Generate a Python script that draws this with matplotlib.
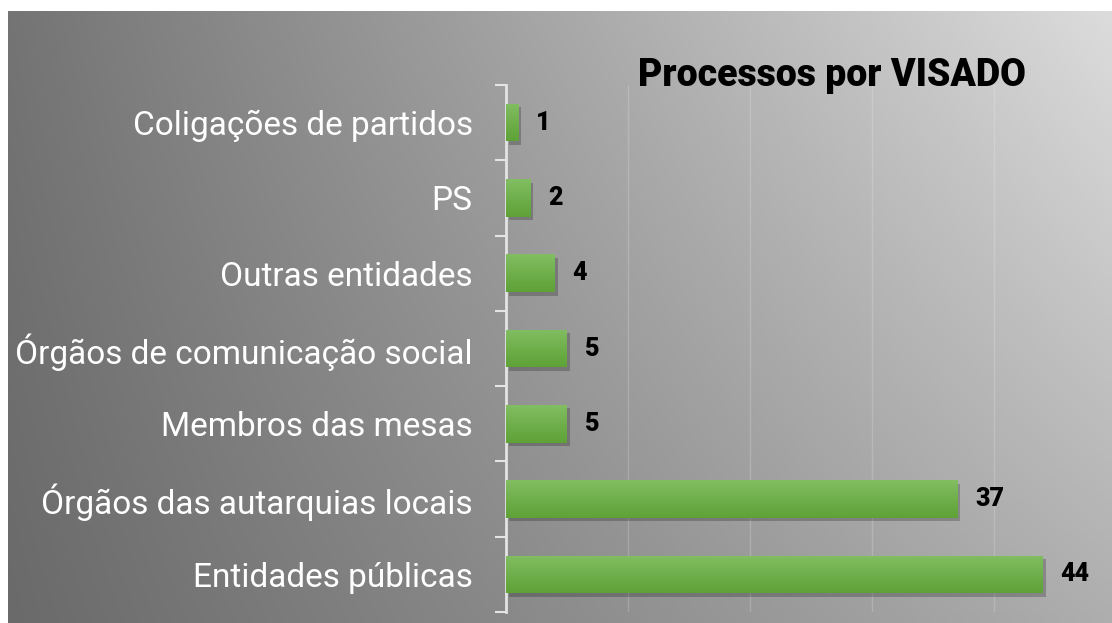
import numpy as np
import matplotlib
matplotlib.use("Agg")
import matplotlib.pyplot as plt
from matplotlib import patheffects as pe

categories = ["Coligações de partidos", "PS", "Outras entidades",
              "Órgãos de comunicação social", "Membros das mesas",
              "Órgãos das autarquias locais", "Entidades públicas"]
values = [1, 2, 4, 5, 5, 37, 44]
title = "Processos por VISADO"

W, H = 1112, 623
fig = plt.figure(figsize=(W / 100, H / 100), dpi=100)
fig.patch.set_facecolor("white")

# background gradient panel
bg = fig.add_axes([8 / W, 0, 1 - 8 / W, (H - 11) / H])
bg.set_axis_off()
nx, ny = 256, 128
xs = np.linspace(0, 1, nx)[None, :]
ys = np.linspace(0, 1, ny)[:, None]  # 0 top, 1 bottom
left = 0x74 * (1 - ys) + 0x6a * ys
right = 0xdc * (1 - ys) + 0xae * ys
g = (left * (1 - xs) + right * xs) / 255.0
bg.imshow(np.dstack([g, g, g]), aspect="auto", extent=[0, 1, 1, 0], interpolation="bilinear")
bg.set_xlim(0, 1)
bg.set_ylim(1, 0)

ax = fig.add_axes([506 / W, 1 - 612 / H, (1116 - 506) / W, (612 - 85) / H])
ax.patch.set_alpha(0)
ypos = np.arange(len(categories))
bars = ax.barh(ypos, values, height=0.5, color="#6fb044", zorder=3,
               path_effects=[pe.SimplePatchShadow(offset=(2, -2.5), alpha=0.22, shadow_rgbFace="black"),
                             pe.Normal()])
grad = np.linspace(0, 1, 64)[:, None]
top = np.array([0x82, 0xbd, 0x62]) / 255
bot = np.array([0x5e, 0xa2, 0x36]) / 255
gimg = top[None, None, :] * (1 - grad[..., None]) + bot[None, None, :] * grad[..., None]
gimg = np.repeat(gimg, 2, axis=1)
for b in bars:
    x0, y0, w, h = b.get_x(), b.get_y(), b.get_width(), b.get_height()
    im = ax.imshow(gimg, aspect="auto", extent=[x0, x0 + w, y0 + h, y0], zorder=4,
                   interpolation="bilinear")
    im.set_clip_path(b)

for y, v in zip(ypos, values):
    ax.text(v + 1.45, y, str(v), va="center", ha="left", fontsize=18,
            fontweight=900, family="Roboto", color="black", zorder=5)

ax.set_xlim(0, 50)
ax.set_ylim(6.5, -0.5)
ax.set_xticks([10, 20, 30, 40])
ax.tick_params(axis="x", length=0, labelbottom=False)
ax.grid(axis="x", color="white", alpha=0.18, linewidth=1, zorder=0)
ax.set_axisbelow(True)

ax.set_yticks(ypos)
ax.set_yticklabels(categories, fontsize=24, family="Roboto", color="white")
ax.tick_params(axis="y", which="major", length=0, pad=24)
ax.set_yticks(np.arange(-0.5, 7, 1), minor=True)
ax.tick_params(axis="y", which="minor", length=8, width=1.5, color="#e4e4e4")
for s in ["top", "right", "bottom"]:
    ax.spines[s].set_visible(False)
ax.spines["left"].set_color("#e4e4e4")
ax.spines["left"].set_linewidth(2)

fig.text(832 / W, 1 - 75 / H, title, ha="center", va="center", fontsize=27,
         fontweight=900, family="Roboto", color="black")

fig.savefig("out.png", dpi=100)
